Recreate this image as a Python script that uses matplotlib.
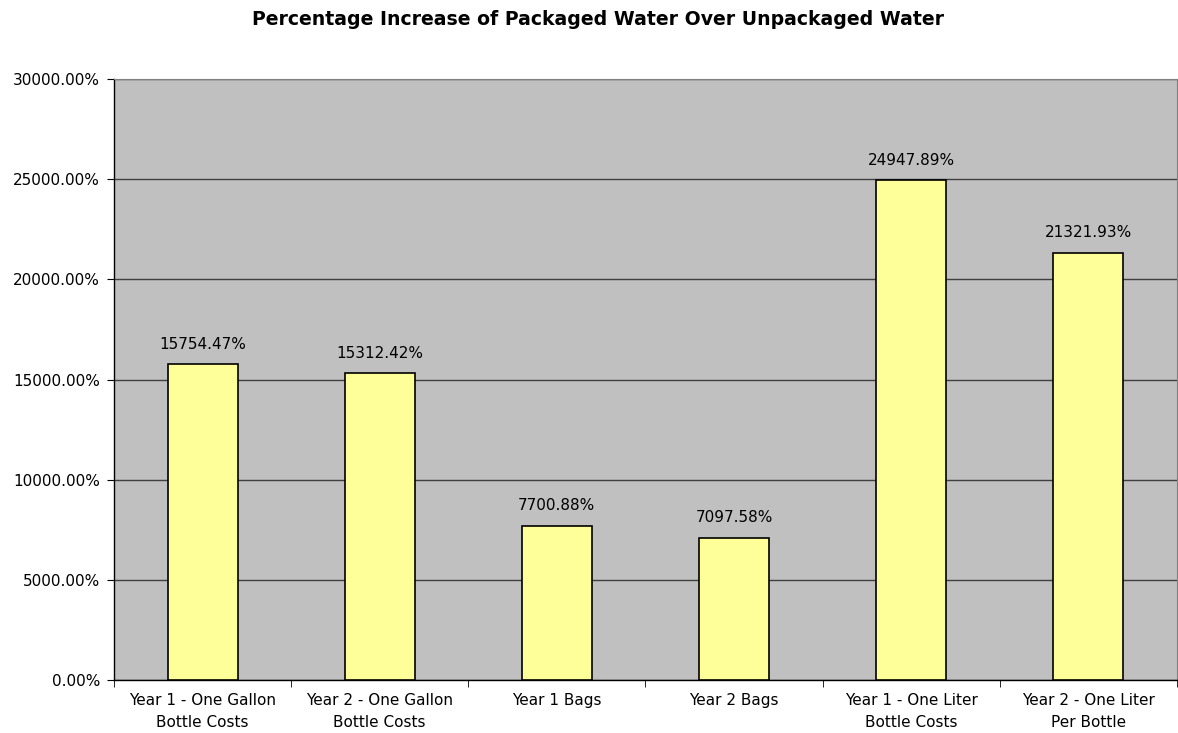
import matplotlib
matplotlib.use("Agg")
import matplotlib.pyplot as plt
from matplotlib.ticker import FixedLocator

categories = ["Year 1 - One Gallon\nBottle Costs", "Year 2 - One Gallon\nBottle Costs",
              "Year 1 Bags", "Year 2 Bags",
              "Year 1 - One Liter\nBottle Costs", "Year 2 - One Liter\nPer Bottle"]
values = [15754.47, 15312.42, 7700.88, 7097.58, 24947.89, 21321.93]
yticks = [0, 5000, 10000, 15000, 20000, 25000, 30000]
title = "Percentage Increase of Packaged Water Over Unpackaged Water"

plt.rcParams['font.family'] = ['DejaVu Sans']

fig = plt.figure(figsize=(11.78, 7.33), dpi=100)
ax = fig.add_axes([0.0968, 0.0723, 0.9022, 0.8199])
ax.set_facecolor('#C0C0C0')

x = list(range(len(categories)))
ax.bar(x, values, width=0.395, color='#FFFF99', edgecolor='black', linewidth=1.2, zorder=3)
for xi, v in zip(x, values):
    ax.annotate(f"{v:.2f}%", (xi, v), xytext=(0, 9), textcoords='offset points',
                ha='center', va='bottom', fontsize=11, color='black')

ax.set_xlim(-0.5, len(categories) - 0.5)
ax.set_ylim(0, 30000)
ax.set_yticks(yticks)
ax.set_yticklabels([f"{t:.2f}%" for t in yticks], fontsize=11)
ax.yaxis.grid(True, color='#404040', linewidth=1, zorder=1)
ax.set_axisbelow(True)

ax.set_xticks(x)
ax.set_xticklabels(categories, fontsize=11, linespacing=1.6)
ax.tick_params(axis='x', length=0, pad=9)
ax.xaxis.set_minor_locator(FixedLocator([i + 0.5 for i in range(-1, len(categories))]))
ax.tick_params(axis='x', which='minor', length=5, direction='out', color='black')
ax.tick_params(axis='y', length=5, direction='out', color='black', pad=5)

for s in ['left', 'bottom']:
    ax.spines[s].set_color('black')
    ax.spines[s].set_linewidth(1)
ax.spines['top'].set_color('#808080')
ax.spines['right'].set_color('#808080')

fig.text(0.508, 0.986, title, ha='center', va='top', fontsize=13.6, fontweight='bold')

fig.savefig("out.png", dpi=100)
